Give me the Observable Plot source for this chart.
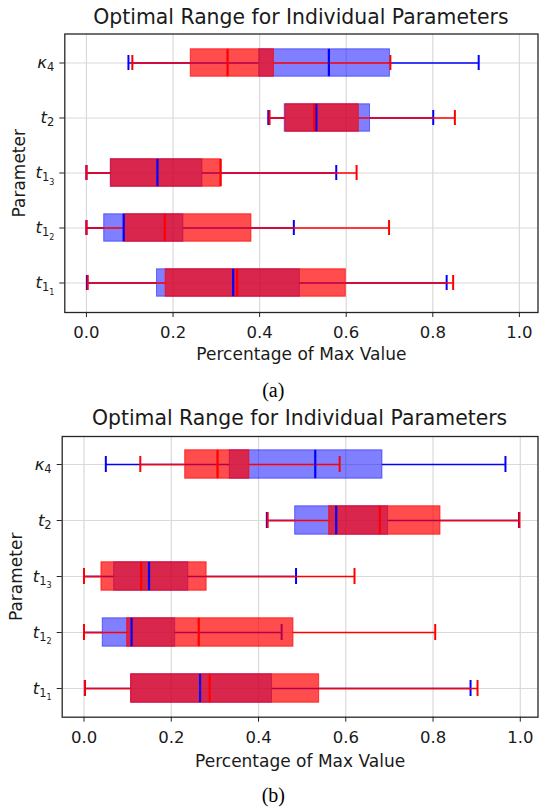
<!DOCTYPE html>
<html><head><meta charset="utf-8">
<script src="https://cdn.jsdelivr.net/npm/d3@7"></script>
<script src="https://cdn.jsdelivr.net/npm/@observablehq/plot@0.6"></script>
<style>
body{margin:0;background:#fff;}
#wrap{position:relative;width:539px;height:807px;background:#fff;overflow:hidden;font-family:"DejaVu Sans";}
.panel{position:absolute;left:0;}
.title{position:absolute;text-align:center;font-family:"DejaVu Sans";font-size:20.4px;color:#1a1a1a;white-space:nowrap;}
.cap{position:absolute;text-align:center;font-family:"Liberation Serif";font-size:20px;color:#000;}
</style></head><body>
<div id="wrap">
 <div id="pa" class="panel" style="top:0"></div>
 <div id="pb" class="panel" style="top:400px"></div>
 <div class="title" style="top:0;left:64.3px;width:473.2px;height:34px;line-height:34px">Optimal Range for Individual Parameters</div>
 <div class="cap" style="top:378px;left:223.3px;width:100px;height:24px;line-height:24px">(a)</div>
 <div class="title" style="top:400px;left:61.7px;width:475.8px;height:36px;line-height:36px">Optimal Range for Individual Parameters</div>
 <div class="cap" style="top:783px;left:223.3px;width:100px;height:24px;line-height:24px">(b)</div>
</div>
<script>
// Parameters, top to bottom
const params = ["κ4", "t2", "t13", "t12", "t11"];
const xTicks = [0, 0.2, 0.4, 0.6, 0.8, 1.0];
const xLabel = "Percentage of Max Value";
const yLabel = "Parameter";

// Each row: [whisker min, Q1, median, Q3, whisker max]
const blueA = [
  [0.097, 0.399, 0.560, 0.701, 0.906],
  [0.420, 0.458, 0.531, 0.655, 0.801],
  [0.000, 0.056, 0.164, 0.268, 0.577],
  [0.000, 0.041, 0.086, 0.224, 0.479],
  [0.001, 0.163, 0.339, 0.493, 0.832]
];
const redA = [
  [0.106, 0.241, 0.326, 0.433, 0.702],
  [0.423, 0.460, 0.526, 0.629, 0.851],
  [0.000, 0.057, 0.310, 0.310, 0.624],
  [0.000, 0.087, 0.181, 0.381, 0.699],
  [0.003, 0.183, 0.348, 0.599, 0.847]
];
const blueB = [
  [0.050, 0.334, 0.530, 0.684, 0.966],
  [0.419, 0.484, 0.578, 0.697, 0.997],
  [0.000, 0.069, 0.149, 0.239, 0.486],
  [0.000, 0.043, 0.109, 0.209, 0.453],
  [0.002, 0.108, 0.266, 0.431, 0.886]
];
const redB = [
  [0.129, 0.232, 0.306, 0.379, 0.586],
  [0.421, 0.562, 0.678, 0.817, 0.998],
  [0.000, 0.040, 0.131, 0.281, 0.620],
  [0.000, 0.099, 0.263, 0.480, 0.805],
  [0.002, 0.108, 0.288, 0.539, 0.902]
];

const rows = (stats) => params.map((p, i) => ({
  param: p, min: stats[i][0], q1: stats[i][1], med: stats[i][2], q3: stats[i][3], max: stats[i][4]
}));

function seriesMarks(data, color, opacity, boxInset, capInset) {
  return [
    Plot.barX(data, {y: "param", x1: "q1", x2: "q3", fill: color, fillOpacity: opacity,
      stroke: color, strokeOpacity: opacity, strokeWidth: 1, insetTop: boxInset, insetBottom: boxInset}),
    Plot.ruleY(data, {y: "param", x1: "min", x2: "q1", stroke: color, strokeWidth: 1.6}),
    Plot.ruleY(data, {y: "param", x1: "q3", x2: "max", stroke: color, strokeWidth: 1.6}),
    Plot.tickX(data, {y: "param", x: "min", stroke: color, strokeWidth: 2, insetTop: capInset, insetBottom: capInset}),
    Plot.tickX(data, {y: "param", x: "max", stroke: color, strokeWidth: 2, insetTop: capInset, insetBottom: capInset})
  ];
}
function medianMark(data, color, boxInset) {
  return Plot.tickX(data, {y: "param", x: "med", stroke: color, strokeWidth: 2.2, insetTop: boxInset, insetBottom: boxInset});
}

function mathLabels(svg) {
  const NS = "http://www.w3.org/2000/svg";
  svg.querySelectorAll('[aria-label="y-axis tick label"] text').forEach(t => {
    const s = t.textContent;
    const base = s[0], rest = s.slice(1);
    t.textContent = "";
    const b = document.createElementNS(NS, "tspan");
    b.setAttribute("font-style", "italic");
    b.textContent = base;
    t.appendChild(b);
    if (rest.length > 0) {
      const sub = document.createElementNS(NS, "tspan");
      sub.setAttribute("font-size", "11.5px");
      sub.setAttribute("dy", "3");
      sub.textContent = rest[0];
      t.appendChild(sub);
    }
    if (rest.length > 1) {
      const ss = document.createElementNS(NS, "tspan");
      ss.setAttribute("font-size", "8px");
      ss.setAttribute("dy", "3.5");
      ss.textContent = rest.slice(1);
      t.appendChild(ss);
    }
  });
}

function panel({blue, red, height, marginTop, marginBottom, marginLeft, xMax, tickPadding, labelDy}) {
  const boxInset = 13.8, capInset = 20;
  const blueRows = rows(blue), redRows = rows(red);
  const svg = Plot.plot({
    width: 539, height, marginTop, marginBottom, marginLeft, marginRight: 1.5,
    style: {fontFamily: "DejaVu Sans", fontSize: "16px", background: "transparent", color: "#1a1a1a", overflow: "visible"},
    x: {domain: [-0.05, xMax], label: null},
    y: {domain: params, padding: 0, label: null},
    marks: [
      Plot.gridX({ticks: xTicks, stroke: "#d9d9d9", strokeOpacity: 1, strokeWidth: 1.2}),
      Plot.gridY({stroke: "#d9d9d9", strokeOpacity: 1, strokeWidth: 1.2}),
      ...seriesMarks(blueRows, "blue", 0.5, boxInset, capInset),
      ...seriesMarks(redRows, "red", 0.7, boxInset, capInset),
      medianMark(blueRows, "blue", boxInset),
      medianMark(redRows, "red", boxInset),
      Plot.frame({stroke: "#262626", strokeWidth: 1.3}),
      Plot.axisX({ticks: xTicks, tickFormat: d3.format(".1f"), tickSize: 5, tickPadding, fontSize: 16.5, label: null, stroke: "#262626"}),
      Plot.axisY({tickSize: 5, tickPadding: 5.5, fontSize: 16.5, label: null, stroke: "#262626"}),
      Plot.text([xLabel], {text: d => d, frameAnchor: "bottom", textAnchor: "middle", lineAnchor: "middle", dy: labelDy, fontSize: 17, fill: "#1a1a1a"}),
      Plot.text([yLabel], {text: d => d, frameAnchor: "left", textAnchor: "middle", lineAnchor: "middle", rotate: -90, dx: -45.5, fontSize: 17, fill: "#1a1a1a"})
    ]
  });
  mathLabels(svg);
  return svg;
}

document.getElementById("pa").appendChild(panel({
  blue: blueA, red: redA, height: 372, marginTop: 33.5, marginBottom: 60, marginLeft: 64.3,
  xMax: 1.043, tickPadding: 8.5, labelDy: 42
}));
document.getElementById("pb").appendChild(panel({
  blue: blueB, red: redB, height: 380, marginTop: 36, marginBottom: 63.3, marginLeft: 61.7,
  xMax: 1.0406, tickPadding: 9, labelDy: 44
}));
</script>
</body></html>
